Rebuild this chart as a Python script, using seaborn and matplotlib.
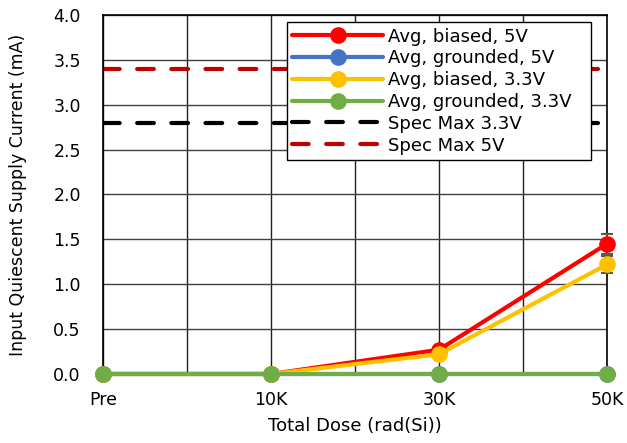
import numpy as np
import pandas as pd
import matplotlib
matplotlib.use("Agg")
import matplotlib.pyplot as plt
import seaborn as sns

# data
doses = ["Pre", "10K", "30K", "50K"]
biased_5v = [0.0, 0.0, 0.27, 1.45]
grounded_5v = [0.0, 0.0, 0.0, 0.0]
biased_33v = [0.0, 0.0, 0.22, 1.22]
grounded_33v = [0.0, 0.0, 0.0, 0.0]
err_biased_5v = [0.0, 0.0, 0.0, 0.11]
err_biased_33v = [0.0, 0.0, 0.0, 0.10]
spec_max_33v = 2.8
spec_max_5v = 3.4

sns.set_theme(style="white")
plt.rcParams["font.family"] = ["DejaVu Sans"]
plt.rcParams["text.color"] = "black"

fig = plt.figure(figsize=(6.27, 4.43), dpi=100)
ax = fig.add_axes([0.1643, 0.1558, 0.8037, 0.8104])

x = np.arange(len(doses))
series = [
    ("Avg, biased, 5V", biased_5v, "#ff0000", err_biased_5v),
    ("Avg, grounded, 5V", grounded_5v, "#4472c4", None),
    ("Avg, biased, 3.3V", biased_33v, "#ffc000", err_biased_33v),
    ("Avg, grounded, 3.3V", grounded_33v, "#70ad47", None),
]

for i, (name, vals, col, err) in enumerate(series):
    df = pd.DataFrame({"dose": x, "val": vals})
    if err is not None:
        ax.errorbar(x, vals, yerr=err, fmt="none", ecolor="#595959",
                    elinewidth=1.2, capsize=4, capthick=1.5, zorder=3 + i * 0.1,
                    clip_on=False)
    sns.lineplot(data=df, x="dose", y="val", ax=ax, color=col, linewidth=3,
                 marker="o", markersize=12, markeredgewidth=0, label=name,
                 zorder=4 + i, clip_on=False)

ax.axhline(spec_max_33v, color="black", linewidth=3, dashes=(4, 4.2),
           dash_capstyle="round", label="Spec Max 3.3V", zorder=2)
ax.axhline(spec_max_5v, color="#c00000", linewidth=3, dashes=(4, 4.2),
           dash_capstyle="round", label="Spec Max 5V", zorder=2)

ax.set_xlim(0, 3)
ax.set_ylim(0, 4)
ax.set_xticks(x)
ax.set_xticklabels(doses)
ax.set_xticks(np.arange(0, 3.01, 0.5), minor=True)
ax.set_yticks(np.arange(0, 4.01, 0.5))
ax.set_yticklabels([f"{v:.1f}" for v in np.arange(0, 4.01, 0.5)])
ax.grid(True, which="major", axis="y", color="#404040", linewidth=1)
ax.grid(True, which="both", axis="x", color="#202020", linewidth=1)
ax.tick_params(axis="both", which="both", length=0, labelsize=12.5, colors="black")
ax.tick_params(axis="x", pad=12)
ax.tick_params(axis="y", pad=16)
for s in ax.spines.values():
    s.set_visible(True)
    s.set_color("black")
    s.set_linewidth(1.2)

ax.set_xlabel("Total Dose (rad(Si))", fontsize=13, color="black", labelpad=6)
ax.set_ylabel("Input Quiescent Supply Current (mA)", fontsize=12.5, color="black", labelpad=19)

leg = ax.legend(loc="upper left", bbox_to_anchor=(0.365, 0.0, 0.603, 0.98), mode="expand",
                fontsize=13, frameon=True, fancybox=False, framealpha=1, edgecolor="black",
                handlelength=5.0, handletextpad=0.3, labelspacing=0.21,
                borderpad=0.3, borderaxespad=0)
leg.get_frame().set_linewidth(1)
leg.set_zorder(20)
for t in leg.get_texts():
    t.set_color("black")

fig.savefig("out.png", dpi=100)
